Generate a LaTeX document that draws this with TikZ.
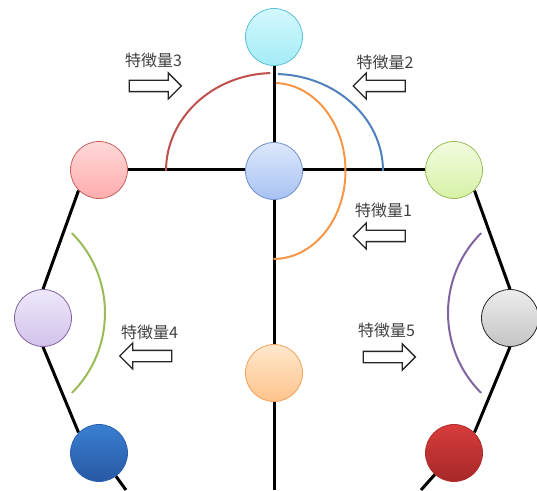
\documentclass[tikz,border=0pt]{standalone}
\usepackage{fontspec}
\newfontfamily\jpfont{Noto Sans CJK JP}
\usetikzlibrary{shapes.arrows}
\pgfdeclarelayer{back}
\pgfsetlayers{back,main}
\definecolor{arcred}{HTML}{C0504D}
\definecolor{arcblue}{HTML}{4F81BD}
\definecolor{arcorange}{HTML}{F79646}
\definecolor{arcgreen}{HTML}{9BBB59}
\definecolor{arcpurple}{HTML}{8064A2}
% ball fills (top / bottom) and edges
\definecolor{cyanA}{HTML}{D2F8FD}\definecolor{cyanB}{HTML}{A4ECF6}\definecolor{cyanE}{HTML}{5CC0D6}
\definecolor{bluA}{HTML}{DCE7FB}\definecolor{bluB}{HTML}{A9C2F3}\definecolor{bluE}{HTML}{6D8FCC}
\definecolor{pinkA}{HTML}{FFD8D8}\definecolor{pinkB}{HTML}{FFACAC}\definecolor{pinkE}{HTML}{C86060}
\definecolor{limeA}{HTML}{F2FCE0}\definecolor{limeB}{HTML}{D6F1A6}
\definecolor{lilaA}{HTML}{EEE8FA}\definecolor{lilaB}{HTML}{D2C2EA}
\definecolor{grayA}{HTML}{EDEDED}\definecolor{grayB}{HTML}{C4C4C4}
\definecolor{navyA}{HTML}{3A7FD2}\definecolor{navyB}{HTML}{2858A3}\definecolor{navyE}{HTML}{2A62B0}
\definecolor{crimA}{HTML}{D83C3C}\definecolor{crimB}{HTML}{A62828}\definecolor{crimE}{HTML}{B02C2C}
\definecolor{peachA}{HTML}{FFE8CC}\definecolor{peachB}{HTML}{FFC38C}\definecolor{peachE}{HTML}{F5A05A}
\begin{document}
\begin{tikzpicture}[x=1pt,y=1pt,
  ball/.style n args={3}{circle, minimum size=57pt, inner sep=0pt, line width=0.8pt,
    draw=#1, top color=#2, bottom color=#3},
  link/.style={line width=3pt, black},
  featarc/.style={line width=2pt},
  blockarrow/.style={single arrow, draw=black!85, line width=1.3pt, fill=white,
    minimum height=52pt, inner xsep=0pt, inner ysep=5pt,
    single arrow head extend=7.5pt},
  leftarrow/.style={blockarrow, shape border rotate=180},
  lbl/.style={font=\jpfont\fontsize{16}{16}\selectfont, text=black!75, inner sep=0pt}
]
\useasboundingbox (0,0) rectangle (537,490);

% free ends of the lines at the bottom edge
\coordinate (eMid) at (274,0);
\coordinate (eL)   at (126,0);
\coordinate (eR)   at (421,0);

% centres of the side arcs
\coordinate (cL) at (-8,177);
\coordinate (cR) at (561,177);

% balls
\node[ball={cyanE}{cyanA}{cyanB}]        (top) at (274,453) {};
\node[ball={bluE}{bluA}{bluB}]           (mid) at (274,319) {};
\node[ball={pinkE}{pinkA}{pinkB}]        (l1)  at (99,320) {};
\node[ball={arcgreen}{limeA}{limeB}]     (r1)  at (454,320) {};
\node[ball={arcpurple}{lilaA}{lilaB}]    (l2)  at (43,172) {};
\node[ball={black!85}{grayA}{grayB}]     (r2)  at (510,172) {};
\node[ball={navyE}{navyA}{navyB}]        (l3)  at (99,37) {};
\node[ball={crimE}{crimA}{crimB}]        (r3)  at (454,37) {};
\node[ball={peachE}{peachA}{peachB}]     (low) at (274,117) {};

% connecting lines and feature arcs, drawn behind the balls
\begin{pgfonlayer}{back}
\draw[link] (top.center) -- (eMid);
\draw[link] (l1.center) -- (r1.center);
\draw[link] (l1.south west) -- (l2.north);
\draw[link] (l2.south) -- (l3.north west);
\draw[link] (l3.center) -- (eL);
\draw[link] (r1.south east) -- (r2.north);
\draw[link] (r2.south) -- (r3.north east);
\draw[link] (r3.center) -- (eR);

\draw[featarc, arcred]    ([shift={(-108,0)}]mid.center) arc[start angle=180, end angle=92, x radius=108, y radius=98];
\draw[featarc, arcblue]   ([shift={(109,0)}]mid.center) arc[start angle=0, end angle=88, x radius=109, y radius=97];
\draw[featarc, arcorange] ([shift={(2,88)}]mid.center) arc[start angle=88, end angle=-90, x radius=72, y radius=88];
\draw[featarc, arcgreen]  ([shift={(45:113)}]cL) arc[start angle=45, end angle=-45, radius=113];
\draw[featarc, arcpurple] ([shift={(135:113)}]cR) arc[start angle=135, end angle=225, radius=113];
\end{pgfonlayer}

% block arrows
\node[blockarrow] (a3) at (152.5,404) {};
\node[leftarrow]  (a2) at (382,404) {};
\node[leftarrow]  (a1) at (382,254) {};
\node[leftarrow]  (a4) at (148.5,134) {};
\node[blockarrow] (a5) at (386.5,133) {};

% labels
\node[lbl] (t3) at (153.5,430) {特徴量3};
\node[lbl] (t2) at (385,428) {特徴量2};
\node[lbl] (t1) at (383.5,280) {特徴量1};
\node[lbl] (t4) at (149.5,158) {特徴量4};
\node[lbl] (t5) at (386.5,160) {特徴量5};
\end{tikzpicture}
\end{document}
